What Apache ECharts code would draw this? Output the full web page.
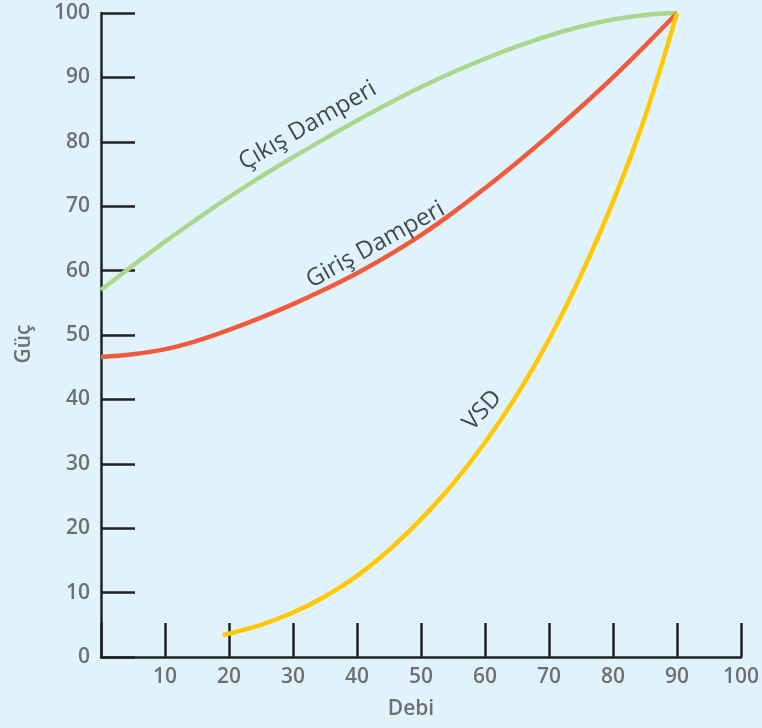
<!DOCTYPE html>
<html>
<head>
<meta charset="utf-8">
<script src="https://cdn.jsdelivr.net/npm/echarts@6/dist/echarts.min.js"></script>
<style>
html,body{margin:0;padding:0;background:#e0f2fc;}
#chart{width:762px;height:728px;}
</style>
</head>
<body>
<div id="chart"></div>
<script>
// Data
var xTicks = [0, 10, 20, 30, 40, 50, 60, 70, 80, 90, 100];
var yTicks = [0, 10, 20, 30, 40, 50, 60, 70, 80, 90, 100];

var cikisX = [0, 5, 10, 15, 20, 25, 30, 35, 40, 45, 50, 55, 60, 65, 70, 75, 80, 85, 90];
var cikisY = [57, 60.8, 64.5, 68.0, 71.4, 74.6, 77.6, 80.5, 83.3, 86.0, 88.5, 90.8, 92.9, 94.8, 96.5, 97.9, 99.0, 99.7, 100];

var girisX = [0, 5, 10, 15, 20, 25, 30, 35, 40, 45, 50, 55, 60, 65, 70, 75, 80, 85, 90];
var girisY = [46.6, 47.0, 47.8, 49.1, 50.8, 52.7, 54.8, 57.1, 59.6, 62.4, 65.5, 69.0, 72.8, 76.8, 81.0, 85.4, 90.0, 94.9, 100];

var vsdX = [19, 25, 30, 35, 40, 45, 50, 55, 60, 65, 70, 75, 80, 85, 90];
var vsdY = [3.4, 5.0, 6.9, 9.4, 12.6, 16.6, 21.4, 26.9, 33.3, 40.7, 49.3, 59.3, 70.7, 83.9, 100];

var curveNames = ['Çıkış Damperi', 'Giriş Damperi', 'VSD'];
var labelX = [32.3, 42.9, 59.6];
var labelY = [82.5, 64.0, 38.3];
var labelAngle = [30, 29, 48];

function pairs(xs, ys) {
  return xs.map(function (x, i) { return [x, ys[i]]; });
}

var chart = echarts.init(document.getElementById('chart'), null, {renderer: 'canvas'});
var tickFont = {color: '#6f6f6f', fontSize: 21, fontFamily: 'Open Sans', fontWeight: 600};
var axisLineStyle = {color: '#222222', width: 2.5};

var labelSeries = curveNames.map(function (name, i) {
  return {
    type: 'scatter',
    symbolSize: 0,
    silent: true,
    data: [[labelX[i], labelY[i]]],
    label: {
      show: true,
      position: 'inside',
      formatter: name,
      rotate: labelAngle[i],
      color: '#1a1a1a',
      fontSize: 24,
      fontFamily: 'Open Sans',
      fontWeight: 400
    },
    z: 5
  };
});

chart.setOption({
  backgroundColor: '#e0f2fc',
  animation: false,
  grid: {left: 101, top: 13, right: 17, bottom: 71, containLabel: false},
  xAxis: {
    type: 'value', min: 0, max: 100, interval: 10,
    name: 'Debi', nameLocation: 'middle', nameGap: 42,
    nameTextStyle: {color: '#6f6f6f', fontSize: 21, fontFamily: 'Open Sans', fontWeight: 600,
                    verticalAlign: 'top', padding: [0, 20, 0, 0]},
    axisLine: {show: true, lineStyle: axisLineStyle},
    axisTick: {show: true, inside: true, length: 34, lineStyle: axisLineStyle},
    axisLabel: Object.assign({margin: 10, formatter: function (v) { return v === 0 ? '' : String(v); }}, tickFont),
    splitLine: {show: false}
  },
  yAxis: {
    type: 'value', min: 0, max: 100, interval: 10,
    name: 'Güç', nameLocation: 'middle', nameGap: 66,
    nameTextStyle: {color: '#6f6f6f', fontSize: 21, fontFamily: 'Open Sans', fontWeight: 600,
                    padding: [0, 18, 0, 0]},
    axisLine: {show: true, lineStyle: axisLineStyle},
    axisTick: {show: true, inside: true, length: 34, lineStyle: axisLineStyle},
    axisLabel: Object.assign({margin: 11}, tickFont),
    splitLine: {show: false}
  },
  series: [
    {type: 'line', name: curveNames[0], data: pairs(cikisX, cikisY), smooth: 0.4, showSymbol: false,
     lineStyle: {color: '#a9d78e', width: 4.5}, z: 3},
    {type: 'line', name: curveNames[1], data: pairs(girisX, girisY), smooth: 0.4, showSymbol: false,
     lineStyle: {color: '#f15b3d', width: 4.5}, z: 3},
    {type: 'line', name: curveNames[2], data: pairs(vsdX, vsdY), smooth: 0.4, showSymbol: false,
     lineStyle: {color: '#ffc800', width: 4.5}, z: 4}
  ].concat(labelSeries)
});
</script>
</body>
</html>
